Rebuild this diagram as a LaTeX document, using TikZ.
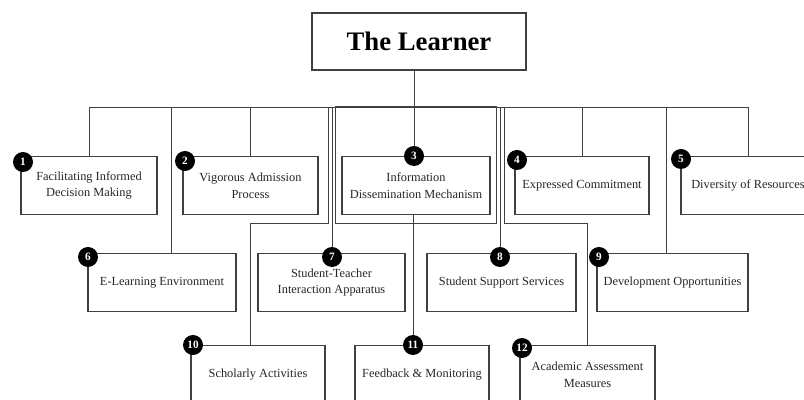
\documentclass[tikz,border=0pt]{standalone}
\usepackage{fontspec}
\setmainfont{Liberation Serif}
\begin{document}
\begin{tikzpicture}[x=0.025cm,y=-0.025cm,
   every node/.style={font=\fontsize{8.8}{12}\selectfont,text=black!85},
   item/.style={draw=black!75,line width=0.8pt,rectangle,minimum height=1.45cm,align=center,inner sep=0pt},
   badge/.style={circle,fill=black,text=white,minimum size=0.5cm,inner sep=0pt,font=\fontsize{8}{8}\selectfont\bfseries},
   link/.style={draw=black!75,line width=0.7pt}]
\path[use as bounding box] (0,0) rectangle (804,400);
\clip (0,0) rectangle (804,400);
\node[item,minimum width=5.35cm,minimum height=1.425cm,line width=1pt,font=\fontsize{19}{22}\selectfont\bfseries,text=black] (learner) at (419,41.5) {The Learner};
\node[item,line width=0.7pt,minimum width=4cm,minimum height=2.9cm] (ring) at (416,165) {};
\node[item,minimum width=3.4cm] (facil) at (89,185.5) {Facilitating Informed\\Decision Making};
\node[item,minimum width=3.375cm] (admis) at (250.5,185.5) {Vigorous Admission\\Process};
\node[item,minimum width=3.7cm] (dissem) at (416,185.5) {Information\\Dissemination Mechanism};
\node[item,minimum width=3.35cm] (commit) at (582,185.5) {Expressed Commitment};
\node[item,minimum width=3.35cm] (divers) at (748,185.5) {Diversity of Resources};
\node[item,minimum width=3.7cm] (elearn) at (162,282.5) {E-Learning Environment};
\node[item,minimum width=3.675cm] (interact) at (331.5,282.5) {Student-Teacher\\Interaction Apparatus};
\node[item,minimum width=3.725cm] (support) at (501.5,282.5) {Student Support Services};
\node[item,minimum width=3.775cm] (develop) at (672.5,282.5) {Development Opportunities};
\node[item,minimum width=3.35cm] (scholar) at (258,374.5) {Scholarly Activities};
\node[item,minimum width=3.35cm] (feedback) at (422,374.5) {Feedback \& Monitoring};
\node[item,minimum width=3.375cm] (assess) at (587.5,374.5) {Academic Assessment\\Measures};
\coordinate (bus) at (0,107);
\coordinate (j6) at (171,107);
\coordinate (j9) at (666,107);
\coordinate (j10) at (328,107);
\coordinate (k10) at (250,0);
\coordinate (j12) at (504,107);
\node[badge] (n1) at (23,162) {1};
\node[badge] (n2) at (185,161) {2};
\node[badge] (n3) at (414,156) {3};
\node[badge] (n4) at (517,160) {4};
\node[badge] (n5) at (681,159) {5};
\node[badge] (n6) at (88,257) {6};
\node[badge] (n7) at (332,257) {7};
\node[badge] (n8) at (500,257) {8};
\node[badge] (n9) at (599,257) {9};
\node[badge] (n10) at (193,345) {10};
\node[badge] (n11) at (413,345) {11};
\node[badge] (n12) at (522,348) {12};
\path[link] (learner.south -| n3) -- (n3.north);
\path[link] (facil.north) |- (divers.north |- bus) -- (divers.north);
\path[link] (admis.north) -- (admis.north |- bus);
\path[link] (commit.north) -- (commit.north |- bus);
\path[link] (j6) -- (j6 |- elearn.north);
\path[link] (j9) -- (j9 |- develop.north);
\path[link] (n7 |- bus) -- (n7.north);
\path[link] (n8 |- bus) -- (n8.north);
\path[link] (j10) |- (k10 |- ring.south) -- (k10 |- scholar.north);
\path[link] (j12) |- (assess.north |- ring.south) -- (assess.north);
\path[link] (n11 |- dissem.south) -- (n11.north);
\end{tikzpicture}
\end{document}
